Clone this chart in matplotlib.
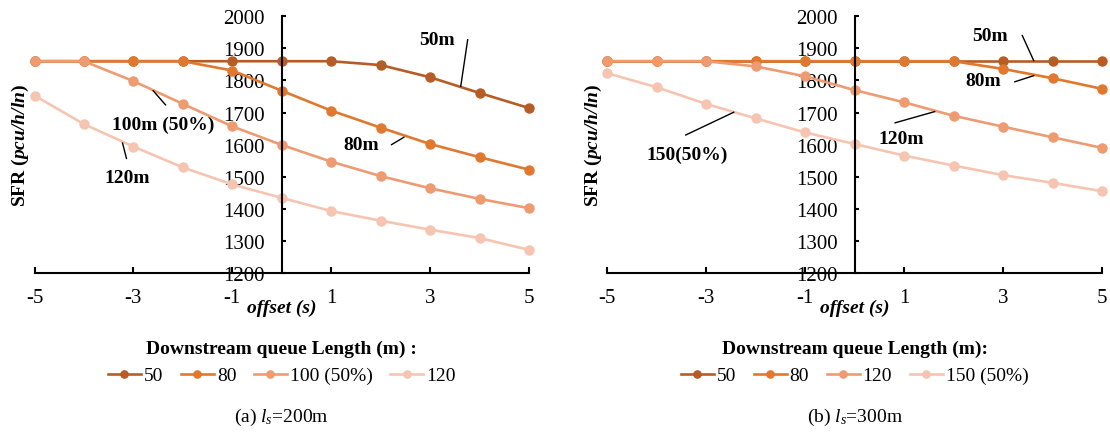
import matplotlib
matplotlib.use("Agg")
import matplotlib.pyplot as plt

plt.rcParams['font.family'] = ['Liberation Serif', 'DejaVu Serif']
plt.rcParams['mathtext.fontset'] = 'custom'
plt.rcParams['mathtext.rm'] = 'Liberation Serif'
plt.rcParams['mathtext.it'] = 'Liberation Serif:italic'
plt.rcParams['mathtext.bf'] = 'Liberation Serif:bold'
plt.rcParams['mathtext.bfit'] = 'Liberation Serif:italic:bold'

offset = [-5, -4, -3, -2, -1, 0, 1, 2, 3, 4, 5]

# (a) ls = 200m
labels_a = ["50", "80", "100 (50%)", "120"]
sfr_a_50 = [1860, 1860, 1860, 1860, 1860, 1860, 1860, 1848, 1810, 1761, 1714]
sfr_a_80 = [1860, 1860, 1860, 1860, 1831, 1768, 1706, 1653, 1602, 1561, 1522]
sfr_a_100 = [1860, 1860, 1798, 1727, 1657, 1599, 1547, 1502, 1464, 1431, 1402]
sfr_a_120 = [1753, 1664, 1594, 1529, 1476, 1434, 1393, 1363, 1335, 1309, 1272]

# (b) ls = 300m
labels_b = ["50", "80", "120", "150 (50%)"]
sfr_b_50 = [1860, 1860, 1860, 1860, 1860, 1860, 1860, 1860, 1860, 1860, 1860]
sfr_b_80 = [1860, 1860, 1860, 1860, 1860, 1860, 1860, 1860, 1836, 1807, 1774]
sfr_b_120 = [1860, 1860, 1860, 1844, 1813, 1770, 1732, 1690, 1656, 1623, 1590]
sfr_b_150 = [1823, 1779, 1727, 1682, 1638, 1602, 1566, 1535, 1505, 1481, 1455]

colors = ['#B65D27', '#E0782F', '#EE9B72', '#F6C5B1']

# callouts: text, text pos, leader line start, leader line end (data units)
notes_a = [
    ("50m", (3.13, 1927), (3.76, 1927), (3.62, 1782)),
    ("100m (50%)", (-2.39, 1664), (-2.60, 1768), (-2.35, 1724)),
    ("80m", (1.60, 1600), (2.22, 1600), (2.47, 1623)),
    ("120m", (-3.13, 1498), (-3.22, 1605), (-3.14, 1557)),
]
notes_b = [
    ("50m", (2.74, 1940), (3.39, 1940), (3.62, 1862)),
    ("80m", (2.60, 1799), (3.24, 1796), (3.62, 1815)),
    ("120m", (0.95, 1620), (0.82, 1668), (1.62, 1703)),
    ("150(50%)", (-3.39, 1571), (-3.41, 1630), (-2.44, 1701)),
]


def panel(ax, series, labels, notes, title, caption):
    for ys, lab, col in zip(series, labels, colors):
        ax.plot(offset, ys, color=col, lw=1.9, marker='o', ms=6.5,
                label=lab, clip_on=False)
    ax.set_xlim(-5, 5)
    ax.set_ylim(1200, 2000)
    ax.set_xticks([-5, -3, -1, 1, 3, 5])
    ax.set_yticks(range(1200, 2001, 100))
    ax.spines['left'].set_position(('data', 0))
    ax.spines['top'].set_visible(False)
    ax.spines['right'].set_visible(False)
    for s in ['left', 'bottom']:
        ax.spines[s].set_linewidth(1.5)
    ax.tick_params(axis='x', direction='in', length=4, width=1.5, pad=11, labelsize=15)
    ax.tick_params(axis='y', direction='in', length=3, width=1.5, pad=12, labelsize=15)
    ax.set_xticklabels([str(t) for t in [-5, -3, -1, 1, 3, 5]])

    for txt, tpos, p0, p1 in notes:
        ax.text(tpos[0], tpos[1], txt, fontsize=14, fontweight='bold',
                ha='center', va='center')
        ax.plot([p0[0], p1[0]], [p0[1], p1[1]], color='black', lw=1)

    ax.text(-0.028, 0.5, r"SFR ($\mathbfit{pcu/h/ln}$)", transform=ax.transAxes,
            rotation=90, ha='center', va='center', fontsize=14, fontweight='bold')
    ax.text(0.5, -0.132, "offset (s)", transform=ax.transAxes, ha='center',
            va='center', fontsize=14, fontweight='bold', fontstyle='italic')

    ax.legend(loc='upper center', bbox_to_anchor=(0.5, -0.26), ncol=4,
              frameon=False, fontsize=14, title=title,
              title_fontproperties={'weight': 'bold', 'size': 14},
              handlelength=1.7, handletextpad=0.15, columnspacing=0.9,
              borderpad=0, borderaxespad=0, markerscale=0.8)
    ax.text(0.5, -0.56, caption, transform=ax.transAxes, ha='center',
            va='center', fontsize=14)


def main():
    fig = plt.figure(figsize=(11.1, 4.35), dpi=100)
    h = (274 - 17.3) / 435
    b = 1 - 274 / 435
    ax1 = fig.add_axes([34.5 / 1110, b, (529 - 34.5) / 1110, h])
    ax2 = fig.add_axes([607 / 1110, b, (1102 - 607) / 1110, h])
    panel(ax1, [sfr_a_50, sfr_a_80, sfr_a_100, sfr_a_120], labels_a, notes_a,
          "Downstream queue Length (m) :", r"(a) $l_s$=200m")
    panel(ax2, [sfr_b_50, sfr_b_80, sfr_b_120, sfr_b_150], labels_b, notes_b,
          "Downstream queue Length (m):", r"(b) $l_s$=300m")
    fig.savefig("out.png", dpi=100)


if __name__ == "__main__":
    main()
